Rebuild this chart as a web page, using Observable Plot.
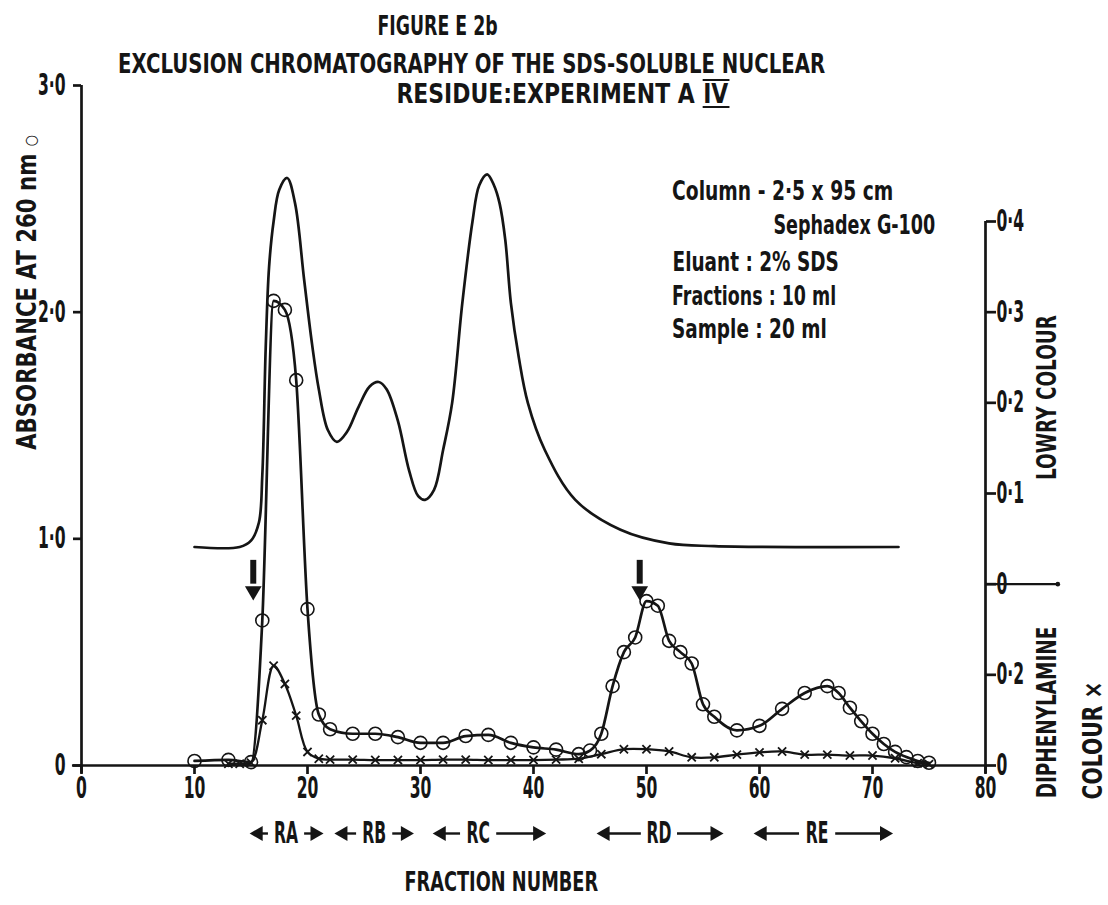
<!DOCTYPE html>
<html>
<head>
<meta charset="utf-8">
<script src="https://cdn.jsdelivr.net/npm/d3@7"></script>
<script src="https://cdn.jsdelivr.net/npm/@observablehq/plot@0.6"></script>
<style>
  html, body { margin: 0; padding: 0; background: #fff; overflow: hidden; }
  #chart { position: relative; width: 1108px; height: 905px; overflow: hidden;
           font-family: "DejaVu Sans", sans-serif; color: #151515; }
  #chart svg { position: absolute; left: 0; top: 0; }
  .lbl { position: absolute; white-space: nowrap; line-height: 1; transform-origin: 50% 50%; }
  .roman { display: inline-block; line-height: 0.72; border-top: 2px solid #151515; border-bottom: 2px solid #151515;
           padding: 3px 1px 3px 1px; }
  .sym { font-size: 60%; font-weight: normal; }
</style>
</head>
<body>
<div id="chart"></div>
<script>
// Absorbance at 260 nm (open circles), left axis
const absFraction = [10, 13, 15, 16, 17, 18, 19, 20, 21, 22, 24, 26, 28, 30, 32, 34, 36, 38, 40, 42, 44, 45,
  46, 47, 48, 49, 50, 51, 52, 53, 54, 55, 56, 58, 60, 62, 64, 66, 67, 68, 69, 70, 71, 72, 73, 74, 75];
const absorbance = [0.02, 0.025, 0.015, 0.64, 2.05, 2.01, 1.70, 0.69, 0.225, 0.16, 0.14, 0.14, 0.125, 0.10, 0.10, 0.13, 0.135, 0.10, 0.08, 0.07, 0.05, 0.066,
  0.14, 0.35, 0.50, 0.565, 0.725, 0.705, 0.55, 0.50, 0.45, 0.27, 0.215, 0.155, 0.175, 0.25, 0.32, 0.35, 0.32, 0.255, 0.195, 0.14, 0.095, 0.06, 0.037, 0.02, 0.012];

// Diphenylamine colour (crosses), lower right axis
const diphFraction = [13, 14, 15, 16, 17, 18, 19, 20, 21, 22, 24, 26, 28, 30, 32, 34, 36, 38, 40, 42, 44,
  46, 48, 50, 52, 54, 56, 58, 60, 62, 64, 66, 68, 70, 72, 74, 75];
const diphenylamine = [0.004, 0.004, 0.006, 0.10, 0.22, 0.18, 0.11, 0.03, 0.015, 0.013, 0.013, 0.012, 0.012, 0.012, 0.013, 0.013, 0.012, 0.012, 0.012, 0.013, 0.015,
  0.025, 0.036, 0.036, 0.031, 0.018, 0.018, 0.024, 0.029, 0.031, 0.024, 0.024, 0.022, 0.022, 0.016, 0.005, 0.003];

// Lowry colour (continuous trace), upper right axis
const lowryFraction = [10, 14, 15, 15.7, 16.0, 16.3, 16.6, 17.0, 17.5, 18.2, 18.9, 19.7, 20.4, 21.0, 21.8, 22.6, 23.5, 24.5, 25.5, 26.3,
  27.0, 28.0, 29.0, 29.8, 30.4, 31.2, 32.0, 32.8, 33.7, 34.6, 35.2, 35.9, 36.5, 37.0, 37.5, 38.0, 38.7, 39.5, 41.0, 43.7, 47.7, 52.0, 56.0, 72.3];
const lowryColour = [0.041, 0.041, 0.048, 0.068, 0.12, 0.26, 0.35, 0.40, 0.435, 0.448, 0.42, 0.336, 0.265, 0.215, 0.17, 0.157, 0.168, 0.195, 0.218, 0.223,
  0.215, 0.18, 0.125, 0.097, 0.093, 0.104, 0.148, 0.20, 0.31, 0.40, 0.44, 0.452, 0.44, 0.42, 0.38, 0.31, 0.25, 0.20, 0.148, 0.093, 0.06, 0.045, 0.042, 0.041];

// Pooled regions along the fraction axis
const regionLabels = ["RA", "RB", "RC", "RD", "RE"];
const regionStart = [15.0, 22.5, 31.2, 45.7, 59.6];
const regionEnd = [21.3, 29.3, 41.0, 56.7, 71.7];
const regionMid = [18.1, 25.9, 35.1, 51.1, 65.1];

// Sample application markers
const arrowFraction = [15.2, 49.4];

// Axis ticks
const xTicks = [0, 10, 20, 30, 40, 50, 60, 70, 80];
const leftTicks = [0, 1, 2, 3];
const leftTickLabels = ["0", "1·0", "2·0", "3·0"];
const lowryTicks = [0, 0.1, 0.2, 0.3, 0.4];
const lowryTickLabels = ["0", "0·1", "0·2", "0·3", "0·4"];
const diphTicks = [0, 0.2];
const diphTickLabels = ["0", "0·2"];

// The two colour scales share the absorbance frame
const lowryAbs = v => 0.8 + 4 * v;
const diphAbs = v => 2 * v;

const absRows = absFraction.map((f, i) => ({fraction: f, value: absorbance[i]}));
const diphRows = diphFraction.map((f, i) => ({fraction: f, value: diphAbs(diphenylamine[i])}));
const lowryRows = lowryFraction.map((f, i) => ({fraction: f, value: lowryAbs(lowryColour[i])}));
const regionRows = regionLabels.map((label, i) => ({label, start: regionStart[i], end: regionEnd[i], mid: regionMid[i]}));

const rightTicks = [...diphTicks.map(diphAbs), ...lowryTicks.map(lowryAbs)];
const rightTickLabels = [...diphTickLabels, ...lowryTickLabels];
const lookup = (ticks, labels) => d => labels[ticks.findIndex(t => Math.abs(t - d) < 1e-6)] ?? "";

const ink = "#151515";
const lw = 2.7;
const regionRow = -0.3;

const plot = Plot.plot({
  width: 1108,
  height: 905,
  marginLeft: 81,
  marginRight: 123,
  marginTop: 85,
  marginBottom: 140,
  x: {domain: [0, 80]},
  y: {domain: [0, 3]},
  style: {fontFamily: '"DejaVu Sans", sans-serif', fontSize: "30px", fontWeight: "bold", color: ink, background: "transparent", overflow: "visible"},
  marks: [
    // frame lines
    Plot.ruleY([0], {x1: -0.8, x2: 80, stroke: ink, strokeWidth: lw}),
    Plot.ruleX([0], {y1: -0.035, y2: 3, stroke: ink, strokeWidth: lw}),
    Plot.ruleX([80], {y1: -0.035, y2: lowryAbs(0.4), stroke: ink, strokeWidth: lw}),
    Plot.ruleY([lowryAbs(0)], {x1: 80, x2: 86.4, stroke: ink, strokeWidth: 2.3}),
    Plot.dot([lowryAbs(0)], {x: 86.4, y: d => d, r: 2.3, fill: ink}),
    // axes
    Plot.axisX({ticks: xTicks, tickSize: 9, tickPadding: 2, tickFormat: d => `${d}`, label: null, stroke: ink, strokeWidth: lw}),
    Plot.axisY({anchor: "left", ticks: leftTicks, tickFormat: lookup(leftTicks, leftTickLabels), tickSize: 8, tickPadding: 8, label: null, stroke: ink, strokeWidth: lw}),
    Plot.axisY({anchor: "right", ticks: rightTicks, tickFormat: lookup(rightTicks, rightTickLabels), tickSize: 10, tickPadding: 1, label: null, stroke: ink, strokeWidth: lw}),
    // Lowry trace
    Plot.line(lowryRows, {x: "fraction", y: "value", curve: "catmull-rom", stroke: ink, strokeWidth: lw}),
    // Diphenylamine
    Plot.line(diphRows, {x: "fraction", y: "value", curve: "catmull-rom", stroke: ink, strokeWidth: 2.3}),
    Plot.dot(diphRows, {x: "fraction", y: "value", symbol: "times", r: 3.8, stroke: ink, strokeWidth: 1.8}),
    // Absorbance
    Plot.line(absRows, {x: "fraction", y: "value", curve: "monotone-x", stroke: ink, strokeWidth: lw}),
    Plot.dot(absRows, {x: "fraction", y: "value", r: 6.5, stroke: ink, strokeWidth: 1.6, fill: "none"}),
    // application arrows
    Plot.ruleX(arrowFraction, {y1: 0.905, y2: 0.8, stroke: ink, strokeWidth: 6}),
    Plot.dot(arrowFraction, {x: d => d, y: 0.77, symbol: "triangle", rotate: 180, r: 6.2, fill: ink}),
    // region brackets below the axis
    Plot.link(regionRows, {x1: d => d.start + 0.8, x2: d => Math.max(d.start + 0.8, d.mid - 1.6), y1: regionRow, y2: regionRow, stroke: ink, strokeWidth: 2.4}),
    Plot.link(regionRows, {x1: d => Math.min(d.end - 0.8, d.mid + 1.6), x2: d => d.end - 0.8, y1: regionRow, y2: regionRow, stroke: ink, strokeWidth: 2.4}),
    Plot.dot(regionRows, {x: d => d.start + 0.65, y: regionRow, symbol: "triangle", rotate: -90, r: 5.6, fill: ink}),
    Plot.dot(regionRows, {x: d => d.end - 0.65, y: regionRow, symbol: "triangle", rotate: 90, r: 5.6, fill: ink}),
    Plot.text(regionRows, {x: "mid", y: regionRow, text: "label", fontSize: 30, fontWeight: "bold", fill: ink})
  ]
});

const chart = document.getElementById("chart");
chart.appendChild(plot);

// narrow lettering: squeeze every svg text about its own anchor
plot.querySelectorAll("text").forEach(t => {
  const k = 0.52;
  const x = +(t.getAttribute("x") || 0);
  const prev = t.getAttribute("transform") || "";
  t.setAttribute("transform", `${prev} translate(${x},0) scale(${k},1) translate(${-x},0)`);
});

// html lettering placed by centre, squeezed to a given length
function place(html, o) {
  const el = document.createElement("div");
  el.className = "lbl";
  el.innerHTML = html;
  el.style.fontSize = o.size + "px";
  el.style.fontWeight = o.weight || "bold";
  chart.appendChild(el);
  const w = el.offsetWidth, h = el.offsetHeight;
  const cx = o.x0 !== undefined ? o.x0 + o.length / 2 : o.cx;
  el.style.left = (cx - w / 2) + "px";
  el.style.top = (o.cy - h / 2) + "px";
  el.style.transform = `rotate(${o.angle || 0}deg) scaleX(${o.length / w})`;
}

place("FIGURE E 2b", {cx: 437, cy: 25, size: 27, length: 120});
place("EXCLUSION CHROMATOGRAPHY OF THE SDS-SOLUBLE NUCLEAR", {cx: 471, cy: 63, size: 27, length: 707});
place('RESIDUE:EXPERIMENT A <span class="roman">IV</span>', {cx: 563, cy: 93, size: 27, length: 333});

place("Column - 2·5 x 95 cm", {x0: 672, cy: 190, size: 27, length: 221});
place("Sephadex G-100", {x0: 773, cy: 224, size: 27, length: 162});
place("Eluant : 2% SDS", {x0: 672, cy: 261, size: 27, length: 166});
place("Fractions : 10 ml", {x0: 672, cy: 295, size: 27, length: 164});
place("Sample : 20 ml", {x0: 672, cy: 328, size: 27, length: 155});

place('ABSORBANCE AT 260 nm <span class="sym">○</span>', {cx: 27, cy: 292, size: 27, length: 315, angle: -90});
place("LOWRY COLOUR", {cx: 1047, cy: 397, size: 27, length: 165, angle: -90});
place("DIPHENYLAMINE", {cx: 1047, cy: 712, size: 27, length: 172, angle: -90});
place("COLOUR ×", {cx: 1092, cy: 740, size: 27, length: 118, angle: -90});

place("FRACTION NUMBER", {cx: 501, cy: 881, size: 27, length: 194});
</script>
</body>
</html>
